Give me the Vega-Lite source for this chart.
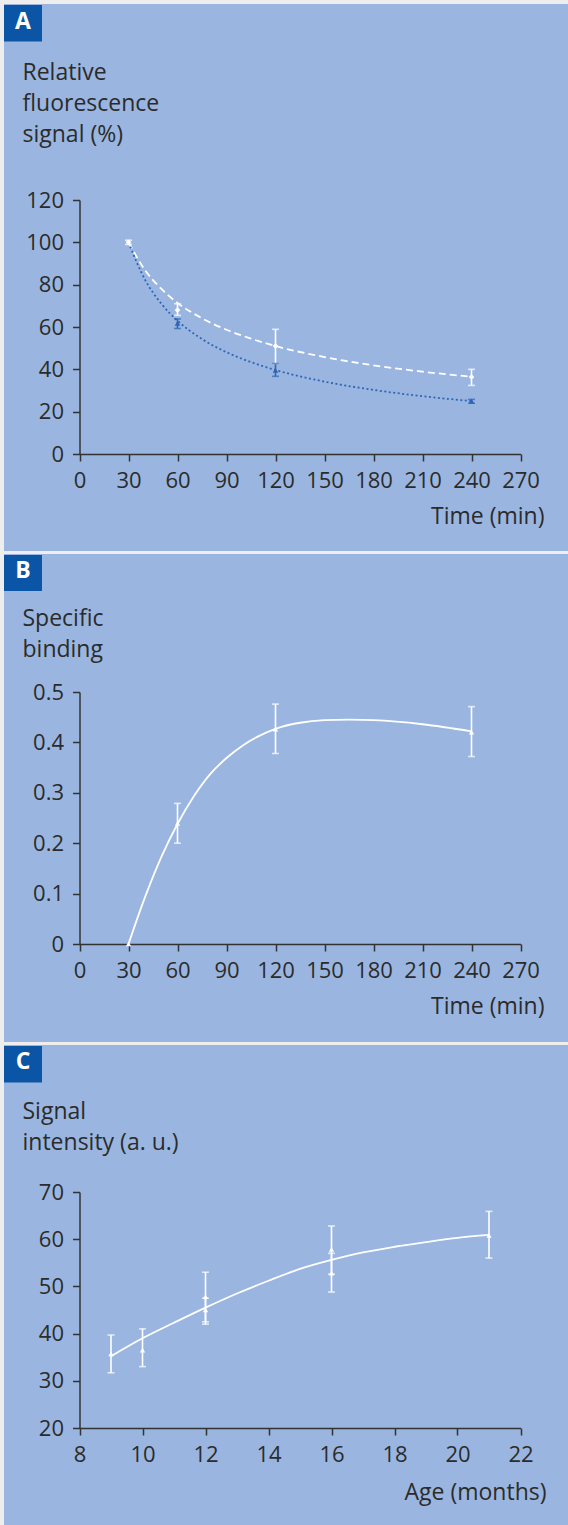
{
  "$schema": "https://vega.github.io/schema/vega-lite/v6.json",
  "background": "#eeeeee",
  "padding": {"left": 4, "top": 4, "right": 0, "bottom": 0},
  "spacing": 3,
  "bounds": "flush",
  "config": {
    "view": {"fill": "#9ab6e0", "stroke": null},
    "font": "Open Sans",
    "axis": {
      "domainColor": "#333333", "domainWidth": 1.5,
      "tickColor": "#333333", "tickWidth": 1.5, "tickSize": 7,
      "labelFont": "Open Sans", "labelFontSize": 22, "labelColor": "#2b2b2b", "labelPadding": 9,
      "titleFont": "Open Sans", "titleFontSize": 23, "titleFontWeight": "normal", "titleColor": "#2b2b2b",
      "grid": false, "labelOverlap": false, "labelFlush": false, "labelBound": false
    }
  },
  "vconcat": [
    {
      "width": 564, "height": 547,
      "layer": [
        {
          "data": {"values": [
            {"s": "w", "t": 30, "v": 100}, {"s": "w", "t": 40, "v": 87.0}, {"s": "w", "t": 50, "v": 78.1},
            {"s": "w", "t": 60, "v": 71.4}, {"s": "w", "t": 75, "v": 64.1}, {"s": "w", "t": 90, "v": 58.7},
            {"s": "w", "t": 105, "v": 54.5}, {"s": "w", "t": 120, "v": 51.0}, {"s": "w", "t": 150, "v": 45.8},
            {"s": "w", "t": 180, "v": 41.9}, {"s": "w", "t": 210, "v": 38.9}, {"s": "w", "t": 240, "v": 36.5},
            {"s": "b", "t": 30, "v": 100}, {"s": "b", "t": 40, "v": 82.5}, {"s": "b", "t": 50, "v": 71.1},
            {"s": "b", "t": 60, "v": 63.0}, {"s": "b", "t": 75, "v": 54.3}, {"s": "b", "t": 90, "v": 48.1},
            {"s": "b", "t": 105, "v": 43.4}, {"s": "b", "t": 120, "v": 39.7}, {"s": "b", "t": 150, "v": 34.2},
            {"s": "b", "t": 180, "v": 30.3}, {"s": "b", "t": 210, "v": 27.3}, {"s": "b", "t": 240, "v": 25.0}
          ]},
          "mark": {"type": "line", "interpolate": "monotone", "strokeWidth": 1.8},
          "encoding": {
            "x": {"field": "t", "type": "quantitative",
              "scale": {"domain": [0, 270], "range": [75.5, 516.5], "nice": false, "zero": false},
              "axis": {"values": [0, 30, 60, 90, 120, 150, 180, 210, 240, 270], "format": "d",
                "title": "Time (min)", "offset": -97, "titleX": 540, "titleY": 69,
                "titleAlign": "right", "titleBaseline": "alphabetic", "titleAngle": 0}},
            "y": {"field": "v", "type": "quantitative",
              "scale": {"domain": [0, 120], "range": [450, 196], "nice": false, "zero": false},
              "axis": {"values": [0, 20, 40, 60, 80, 100, 120], "format": "d",
                "title": ["Relative", "fluorescence", "signal (%)"], "offset": -75.5,
                "titleAngle": 0, "titleX": -57.5, "titleY": 57, "titleAlign": "left",
                "titleBaseline": "top", "titleLineHeight": 31}},
            "color": {"field": "s", "type": "nominal", "scale": {"domain": ["w", "b"], "range": ["#ffffff", "#2e66b5"]}, "legend": null},
            "strokeDash": {"field": "s", "type": "nominal", "scale": {"domain": ["w", "b"], "range": [[7, 4], [2, 2.5]]}, "legend": null}
          }
        },
        {
          "data": {"values": [
            {"s": "b", "t": 60, "v": 61.8, "lo": 59.3, "hi": 63.8},
            {"s": "b", "t": 120, "v": 39.5, "lo": 36.7, "hi": 42.8},
            {"s": "b", "t": 240, "v": 24.9, "lo": 24.0, "hi": 25.8},
            {"s": "w", "t": 30, "v": 100, "lo": 99, "hi": 101},
            {"s": "w", "t": 60, "v": 68, "lo": 65.5, "hi": 71},
            {"s": "w", "t": 120, "v": 51, "lo": 42.8, "hi": 58.9},
            {"s": "w", "t": 240, "v": 36.4, "lo": 32.4, "hi": 40}
          ]},
          "layer": [
            {"mark": {"type": "rule", "strokeWidth": 1.6},
              "encoding": {"x": {"field": "t", "type": "quantitative"}, "y": {"field": "lo", "type": "quantitative"}, "y2": {"field": "hi"},
                "color": {"field": "s", "type": "nominal", "legend": null}}},
            {"mark": {"type": "tick", "orient": "horizontal", "size": 7, "thickness": 1.6},
              "encoding": {"x": {"field": "t", "type": "quantitative"}, "y": {"field": "lo", "type": "quantitative"},
                "color": {"field": "s", "type": "nominal", "legend": null}}},
            {"mark": {"type": "tick", "orient": "horizontal", "size": 7, "thickness": 1.6},
              "encoding": {"x": {"field": "t", "type": "quantitative"}, "y": {"field": "hi", "type": "quantitative"},
                "color": {"field": "s", "type": "nominal", "legend": null}}},
            {"mark": {"type": "point", "filled": true, "opacity": 1, "size": 32},
              "encoding": {"x": {"field": "t", "type": "quantitative"}, "y": {"field": "v", "type": "quantitative"},
                "color": {"field": "s", "type": "nominal", "legend": null},
                "shape": {"field": "s", "type": "nominal", "scale": {"domain": ["w", "b"], "range": ["diamond", "triangle-up"]}, "legend": null}}}
          ]
        },
        {
          "data": {"values": [{"label": "A"}]},
          "layer": [
            {"mark": {"type": "rect", "color": "#0b55a6"},
              "encoding": {"x": {"datum": -46.22, "type": "quantitative"}, "x2": {"datum": -22.96},
                "y": {"datum": 212.1, "type": "quantitative"}, "y2": {"datum": 194.9}}},
            {"mark": {"type": "text", "color": "#ffffff", "fontSize": 23, "fontWeight": "bold", "align": "center", "baseline": "alphabetic"},
              "encoding": {"x": {"datum": -34.59, "type": "quantitative"}, "y": {"datum": 200.9, "type": "quantitative"},
                "text": {"field": "label"}}}
          ]
        }
      ]
    },
    {
      "width": 564, "height": 488,
      "layer": [
        {
          "data": {"values": [
            {"t": 30, "v": 0}, {"t": 40, "v": 0.092}, {"t": 50, "v": 0.172}, {"t": 60, "v": 0.238},
            {"t": 70, "v": 0.293}, {"t": 80, "v": 0.337}, {"t": 90, "v": 0.369}, {"t": 100, "v": 0.394},
            {"t": 110, "v": 0.413}, {"t": 120, "v": 0.427}, {"t": 135, "v": 0.439}, {"t": 150, "v": 0.444},
            {"t": 165, "v": 0.445}, {"t": 180, "v": 0.444}, {"t": 210, "v": 0.436}, {"t": 240, "v": 0.422}
          ]},
          "mark": {"type": "line", "interpolate": "monotone", "strokeWidth": 1.8, "color": "#ffffff"},
          "encoding": {
            "x": {"field": "t", "type": "quantitative",
              "scale": {"domain": [0, 270], "range": [75.5, 516.5], "nice": false, "zero": false},
              "axis": {"values": [0, 30, 60, 90, 120, 150, 180, 210, 240, 270], "format": "d",
                "title": "Time (min)", "offset": -98, "titleX": 540, "titleY": 69,
                "titleAlign": "right", "titleBaseline": "alphabetic", "titleAngle": 0}},
            "y": {"field": "v", "type": "quantitative",
              "scale": {"domain": [0, 0.5], "range": [390, 138], "nice": false, "zero": false},
              "axis": {"values": [0, 0.1, 0.2, 0.3, 0.4, 0.5], "format": ".1~f",
                "title": ["Specific", "binding"], "offset": -75.5,
                "titleAngle": 0, "titleX": -57.5, "titleY": 53, "titleAlign": "left",
                "titleBaseline": "top", "titleLineHeight": 31}}
          }
        },
        {
          "data": {"values": [
            {"t": 30, "v": 0},
            {"t": 60, "v": 0.239, "lo": 0.2, "hi": 0.279},
            {"t": 120, "v": 0.426, "lo": 0.378, "hi": 0.476},
            {"t": 240, "v": 0.42, "lo": 0.372, "hi": 0.471}
          ]},
          "layer": [
            {"mark": {"type": "rule", "strokeWidth": 1.6, "color": "#ffffff"},
              "encoding": {"x": {"field": "t", "type": "quantitative"}, "y": {"field": "lo", "type": "quantitative"}, "y2": {"field": "hi"}}},
            {"mark": {"type": "tick", "orient": "horizontal", "size": 7, "thickness": 1.6, "color": "#ffffff"},
              "encoding": {"x": {"field": "t", "type": "quantitative"}, "y": {"field": "lo", "type": "quantitative"}}},
            {"mark": {"type": "tick", "orient": "horizontal", "size": 7, "thickness": 1.6, "color": "#ffffff"},
              "encoding": {"x": {"field": "t", "type": "quantitative"}, "y": {"field": "hi", "type": "quantitative"}}},
            {"mark": {"type": "point", "filled": true, "opacity": 1, "size": 28, "shape": "triangle-up", "color": "#ffffff"},
              "encoding": {"x": {"field": "t", "type": "quantitative"}, "y": {"field": "v", "type": "quantitative"}}}
          ]
        },
        {
          "data": {"values": [{"label": "B"}]},
          "layer": [
            {"mark": {"type": "rect", "color": "#0b55a6"},
              "encoding": {"x": {"datum": -46.22, "type": "quantitative"}, "x2": {"datum": -22.96},
                "y": {"datum": 0.7718, "type": "quantitative"}, "y2": {"datum": 0.7004}}},
            {"mark": {"type": "text", "color": "#ffffff", "fontSize": 23, "fontWeight": "bold", "align": "center", "baseline": "alphabetic"},
              "encoding": {"x": {"datum": -34.59, "type": "quantitative"}, "y": {"datum": 0.7262, "type": "quantitative"},
                "text": {"field": "label"}}}
          ]
        }
      ]
    },
    {
      "width": 564, "height": 480,
      "layer": [
        {
          "data": {"values": [
            {"t": 9, "v": 35.2}, {"t": 10, "v": 39.0}, {"t": 11, "v": 42.3}, {"t": 12, "v": 45.5},
            {"t": 13, "v": 48.5}, {"t": 14, "v": 51.2}, {"t": 15, "v": 53.7}, {"t": 16, "v": 55.6},
            {"t": 17, "v": 57.2}, {"t": 18, "v": 58.4}, {"t": 19, "v": 59.4}, {"t": 20, "v": 60.3},
            {"t": 21, "v": 60.9}
          ]},
          "mark": {"type": "line", "interpolate": "monotone", "strokeWidth": 1.8, "color": "#ffffff"},
          "encoding": {
            "x": {"field": "t", "type": "quantitative",
              "scale": {"domain": [8, 22], "range": [75.5, 516.5], "nice": false, "zero": false},
              "axis": {"values": [8, 10, 12, 14, 16, 18, 20, 22], "format": "d",
                "title": "Age (months)", "offset": -97, "titleX": 542, "titleY": 71,
                "titleAlign": "right", "titleBaseline": "alphabetic", "titleAngle": 0}},
            "y": {"field": "v", "type": "quantitative",
              "scale": {"domain": [20, 70], "range": [383, 147], "nice": false, "zero": false},
              "axis": {"values": [20, 30, 40, 50, 60, 70], "format": "d",
                "title": ["Signal", "intensity (a. u.)"], "offset": -75.5,
                "titleAngle": 0, "titleX": -57.5, "titleY": 55, "titleAlign": "left",
                "titleBaseline": "top", "titleLineHeight": 31}}
          }
        },
        {
          "data": {"values": [
            {"t": 9, "v": 35.7, "lo": 31.7, "hi": 39.7},
            {"t": 10, "v": 36.5, "lo": 33, "hi": 41},
            {"t": 12, "v": 47.8, "lo": 42.5, "hi": 53},
            {"t": 12, "v": 45, "lo": 42, "hi": 47.5},
            {"t": 16, "v": 57.8, "lo": 52.6, "hi": 62.8},
            {"t": 16, "v": 52.8, "lo": 48.8, "hi": 57},
            {"t": 21, "v": 60.8, "lo": 56, "hi": 65.9}
          ]},
          "layer": [
            {"mark": {"type": "rule", "strokeWidth": 1.6, "color": "#ffffff"},
              "encoding": {"x": {"field": "t", "type": "quantitative"}, "y": {"field": "lo", "type": "quantitative"}, "y2": {"field": "hi"}}},
            {"mark": {"type": "tick", "orient": "horizontal", "size": 7, "thickness": 1.6, "color": "#ffffff"},
              "encoding": {"x": {"field": "t", "type": "quantitative"}, "y": {"field": "lo", "type": "quantitative"}}},
            {"mark": {"type": "tick", "orient": "horizontal", "size": 7, "thickness": 1.6, "color": "#ffffff"},
              "encoding": {"x": {"field": "t", "type": "quantitative"}, "y": {"field": "hi", "type": "quantitative"}}},
            {"mark": {"type": "point", "filled": true, "opacity": 1, "size": 28, "shape": "triangle-up", "color": "#ffffff"},
              "encoding": {"x": {"field": "t", "type": "quantitative"}, "y": {"field": "v", "type": "quantitative"}}}
          ]
        },
        {
          "data": {"values": [{"label": "C"}]},
          "layer": [
            {"mark": {"type": "rect", "color": "#0b55a6"},
              "encoding": {"x": {"datum": 5.6032, "type": "quantitative"}, "x2": {"datum": 6.8095},
                "y": {"datum": 100.93, "type": "quantitative"}, "y2": {"datum": 93.22}}},
            {"mark": {"type": "text", "color": "#ffffff", "fontSize": 23, "fontWeight": "bold", "align": "center", "baseline": "alphabetic"},
              "encoding": {"x": {"datum": 6.2063, "type": "quantitative"}, "y": {"datum": 96.0, "type": "quantitative"},
                "text": {"field": "label"}}}
          ]
        }
      ]
    }
  ]
}
